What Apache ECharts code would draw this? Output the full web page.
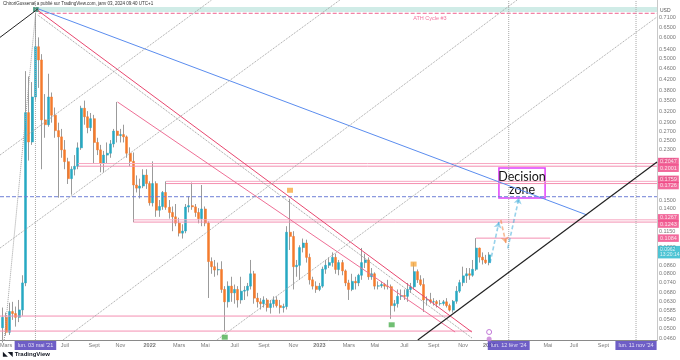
<!DOCTYPE html>
<html><head><meta charset="utf-8">
<script src="https://cdn.jsdelivr.net/npm/echarts@6/dist/echarts.min.js"></script>
<style>html,body{margin:0;padding:0;background:#fff}#c{width:680px;height:360px}</style>
</head><body><div id="c"></div>
<script>
// Weekly candles: [week, open, close, low, high]
const candles = [
['2021-02-22',.0505,.0552,.0445,.0600],['2021-03-01',.0552,.0486,.0472,.0575],['2021-03-08',.0486,.0580,.0475,.0625],
['2021-03-15',.0580,.0570,.0540,.0630],['2021-03-22',.0570,.0552,.0510,.0605],['2021-03-29',.0552,.0588,.0530,.0640],
['2021-04-05',.0588,.0740,.0560,.0790],['2021-04-12',.0740,.3160,.0720,.4500],['2021-04-19',.3160,.2460,.2100,.4300],
['2021-04-26',.2460,.3610,.2400,.4100],['2021-05-03',.3610,.5540,.3500,.7376],['2021-05-10',.5540,.4950,.3900,.6000],
['2021-05-17',.4950,.2970,.1950,.5200],['2021-05-24',.2970,.2850,.2550,.3700],['2021-05-31',.2850,.3610,.2800,.4400],
['2021-06-07',.3610,.3090,.2900,.3750],['2021-06-14',.3090,.2710,.2550,.3300],['2021-06-21',.2710,.2570,.1530,.2900],
['2021-06-28',.2570,.2300,.2150,.2750],['2021-07-05',.2300,.2080,.1950,.2500],['2021-07-12',.2080,.1800,.1720,.2150],
['2021-07-19',.1800,.1950,.1570,.2000],['2021-07-26',.1950,.2000,.1850,.2200],['2021-08-02',.2000,.2340,.1950,.2450],
['2021-08-09',.2340,.3280,.2300,.3350],['2021-08-16',.3280,.3050,.2850,.3500],['2021-08-23',.3050,.2780,.2650,.3200],
['2021-08-30',.2780,.3000,.2700,.3150],['2021-09-06',.3000,.2450,.2050,.3100],['2021-09-13',.2450,.2300,.2200,.2550],
['2021-09-20',.2300,.2050,.1900,.2400],['2021-09-27',.2050,.2200,.1900,.2280],['2021-10-04',.2200,.2235,.2050,.2450],
['2021-10-11',.2235,.2420,.2150,.2500],['2021-10-18',.2420,.2700,.2350,.2750],['2021-10-25',.2700,.2600,.2450,.3460],
['2021-11-01',.2600,.2620,.2450,.2750],['2021-11-08',.2620,.2570,.2450,.2850],['2021-11-15',.2570,.2235,.2150,.2600],
['2021-11-22',.2235,.2086,.2000,.2350],['2021-11-29',.2086,.1705,.1243,.2250],['2021-12-06',.1705,.1660,.1600,.1850],
['2021-12-13',.1660,.1690,.1520,.1800],['2021-12-20',.1690,.1855,.1660,.1950],['2021-12-27',.1855,.1726,.1650,.1950],
['2022-01-03',.1726,.1465,.1430,.1760],['2022-01-10',.1465,.1726,.1420,.2085],['2022-01-17',.1726,.1375,.1300,.1760],
['2022-01-24',.1375,.1420,.1300,.1500],['2022-01-31',.1420,.1600,.1380,.1620],['2022-02-07',.1600,.1410,.1380,.1759],
['2022-02-14',.1410,.1349,.1280,.1500],['2022-02-21',.1349,.1300,.1150,.1420],['2022-02-28',.1300,.1232,.1200,.1450],
['2022-03-07',.1232,.1131,.1100,.1290],['2022-03-14',.1131,.1152,.1080,.1220],['2022-03-21',.1152,.1413,.1130,.1450],
['2022-03-28',.1413,.1430,.1350,.1550],['2022-04-04',.1430,.1415,.1380,.1741],['2022-04-11',.1415,.1349,.1300,.1450],
['2022-04-18',.1349,.1280,.1230,.1400],['2022-04-25',.1280,.1390,.1200,.1705],['2022-05-02',.1390,.1232,.1200,.1420],
['2022-05-09',.1232,.0888,.0651,.1250],['2022-05-16',.0888,.0850,.0800,.0920],['2022-05-23',.0850,.0826,.0780,.0900],
['2022-05-30',.0826,.0830,.0790,.0880],['2022-06-06',.0830,.0700,.0680,.0890],['2022-06-13',.0700,.0630,.0490,.0720],
['2022-06-20',.0630,.0720,.0600,.0750],['2022-06-27',.0720,.0680,.0630,.0780],['2022-07-04',.0680,.0700,.0620,.0730],
['2022-07-11',.0700,.0640,.0600,.0720],['2022-07-18',.0640,.0690,.0620,.0780],['2022-07-25',.0690,.0695,.0640,.0720],
['2022-08-01',.0695,.0720,.0660,.0740],['2022-08-08',.0720,.0800,.0700,.0900],['2022-08-15',.0800,.0650,.0620,.0820],
['2022-08-22',.0650,.0630,.0600,.0680],['2022-08-29',.0630,.0620,.0590,.0650],['2022-09-05',.0620,.0640,.0600,.0660],
['2022-09-12',.0640,.0600,.0580,.0650],['2022-09-19',.0600,.0620,.0570,.0640],['2022-09-26',.0620,.0640,.0600,.0660],
['2022-10-03',.0640,.0610,.0600,.0660],['2022-10-10',.0610,.0600,.0570,.0640],['2022-10-17',.0600,.0605,.0575,.0620],
['2022-10-24',.0605,.1140,.0590,.1200],['2022-10-31',.1140,.1100,.0980,.1515],['2022-11-07',.1100,.0850,.0700,.1150],
['2022-11-14',.0850,.0860,.0780,.0900],['2022-11-21',.0860,.1000,.0760,.1020],['2022-11-28',.1000,.1040,.0960,.1080],
['2022-12-05',.1040,.0920,.0880,.1070],['2022-12-12',.0920,.0760,.0730,.0950],['2022-12-19',.0760,.0720,.0700,.0780],
['2022-12-26',.0720,.0700,.0680,.0750],['2023-01-02',.0700,.0720,.0690,.0740],['2023-01-09',.0720,.0832,.0710,.0850],
['2023-01-16',.0832,.0860,.0800,.0900],['2023-01-23',.0860,.0880,.0840,.0920],['2023-01-30',.0880,.0920,.0850,.0960],
['2023-02-06',.0920,.0830,.0800,.0950],['2023-02-13',.0830,.0880,.0790,.0900],['2023-02-20',.0880,.0820,.0790,.0900],
['2023-02-27',.0820,.0740,.0720,.0830],['2023-03-06',.0740,.0700,.0640,.0760],['2023-03-13',.0700,.0750,.0690,.0800],
['2023-03-20',.0750,.0740,.0700,.0780],['2023-03-27',.0740,.0790,.0720,.0800],['2023-04-03',.0790,.0880,.0760,.0997],
['2023-04-10',.0880,.0900,.0840,.0950],['2023-04-17',.0900,.0780,.0760,.0920],['2023-04-24',.0780,.0800,.0760,.0840],
['2023-05-01',.0800,.0720,.0700,.0810],['2023-05-08',.0720,.0722,.0700,.0750],['2023-05-15',.0722,.0730,.0710,.0750],
['2023-05-22',.0730,.0720,.0700,.0740],['2023-05-29',.0720,.0717,.0700,.0760],['2023-06-05',.0717,.0610,.0545,.0730],
['2023-06-12',.0610,.0620,.0580,.0640],['2023-06-19',.0620,.0660,.0600,.0700],['2023-06-26',.0660,.0665,.0640,.0700],
['2023-07-03',.0665,.0660,.0640,.0700],['2023-07-10',.0660,.0700,.0630,.0740],['2023-07-17',.0700,.0716,.0680,.0740],
['2023-07-24',.0716,.0815,.0700,.0880],['2023-07-31',.0815,.0760,.0740,.0830],['2023-08-07',.0760,.0730,.0720,.0790],
['2023-08-14',.0730,.0640,.0578,.0770],['2023-08-21',.0640,.0641,.0610,.0660],['2023-08-28',.0641,.0630,.0620,.0680],
['2023-09-04',.0630,.0631,.0610,.0650],['2023-09-11',.0631,.0620,.0600,.0640],['2023-09-18',.0620,.0621,.0610,.0640],
['2023-09-25',.0621,.0630,.0610,.0640],['2023-10-02',.0630,.0610,.0600,.0650],['2023-10-09',.0610,.0587,.0580,.0620],
['2023-10-16',.0587,.0633,.0575,.0640],['2023-10-23',.0633,.0690,.0620,.0720],['2023-10-30',.0690,.0742,.0680,.0760],
['2023-11-06',.0742,.0786,.0720,.0850],['2023-11-13',.0786,.0800,.0740,.0840],['2023-11-20',.0800,.0790,.0760,.0840],
['2023-11-27',.0790,.0831,.0780,.0900],['2023-12-04',.0831,.0996,.0820,.1084],['2023-12-11',.0996,.0922,.0880,.1000],
['2023-12-18',.0922,.0900,.0866,.0960],['2023-12-25',.0900,.0880,.0870,.0940],['2024-01-01',.0880,.0940,.0860,.0962]
];
const priceTicks = [0.71,0.65,0.60,0.54,0.50,0.46,0.42,0.38,0.35,0.32,0.29,0.27,0.25,0.23,0.21,0.18,0.15,0.14,0.115,0.10,0.086,0.080,0.074,0.068,0.063,0.0585,0.054,0.050,0.046];
const levelTags = [0.2047,0.2001,0.1759,0.1726,0.1267,0.1243,0.1084];
const lastPrice = 0.0962;
const monthLabels = [
['2021-03-01','Mars'],['2021-07-05','Juil'],['2021-09-06','Sept'],['2021-11-01','Nov'],['2022-01-03','2022'],
['2022-03-07','Mars'],['2022-05-02','Mai'],['2022-07-04','Juil'],['2022-09-05','Sept'],['2022-11-07','Nov'],
['2023-01-02','2023'],['2023-03-06','Mars'],['2023-05-01','Mai'],['2023-07-03','Juil'],['2023-09-04','Sept'],
['2023-11-06','Nov'],['2024-01-01','2024'],['2024-05-06','Mai'],['2024-07-01','Juil'],['2024-09-02','Sept']];
const markedDates = [['2021-05-03',"lun. 03 mai '21"],['2024-02-12',"lun. 12 févr '24"],['2024-11-11',"lun. 11 nov '24"]];
// drawings in data space: [[date, price],[date, price]]
const trendLines = [
 {pts:[['2021-02-16',0.600],['2021-05-08',0.764]], color:'#222', type:'solid', w:1},
 {pts:[['2021-05-10',0.764],['2024-07-29',0.132]], color:'#5b8def', type:'solid', w:1},
 {pts:[['2021-05-08',0.755],['2023-11-25',0.0487]], color:'#e8476f', type:'solid', w:1},
 {pts:[['2021-10-26',0.346],['2023-10-20',0.0487]], color:'#ef6f96', type:'solid', w:1},
 {pts:[['2021-05-08',0.726],['2023-11-25',0.0463]], color:'#999', type:'dotted', w:1},
 {pts:[['2021-02-16',0.2201],['2022-05-16',0.8253]], color:'#a0a0a0', type:'dotted', w:1},
 {pts:[['2021-02-16',0.0996],['2023-02-15',0.8253]], color:'#a0a0a0', type:'dotted', w:1},
 {pts:[['2021-07-01',0.0455],['2024-03-01',0.8253]], color:'#a0a0a0', type:'dotted', w:1},
 {pts:[['2022-05-27',0.0455],['2024-12-26',0.714]], color:'#a0a0a0', type:'dotted', w:1},
 {pts:[['2021-02-25',0.0455],['2021-05-04',0.7575]], color:'#a0a0a0', type:'dotted', w:1},
 {pts:[['2023-08-01',0.0455],['2024-12-26',0.2073]], color:'#222', type:'solid', w:1.2}
];
const levels = [
 {from:'2021-05-10', to:'2024-12-26', p:0.7368, color:'#ef5f8d', type:'dashed'},
 {from:'2021-08-02', to:'2024-12-26', p:0.2047, color:'#f7a8c2', type:'solid'},
 {from:'2021-08-02', to:'2024-12-26', p:0.2001, color:'#f48fb1', type:'solid'},
 {from:'2022-02-07', to:'2024-12-26', p:0.1759, color:'#f7a8c2', type:'solid'},
 {from:'2022-02-07', to:'2024-12-26', p:0.1726, color:'#f48fb1', type:'solid'},
 {from:'2021-11-29', to:'2024-12-26', p:0.1267, color:'#f7a8c2', type:'solid'},
 {from:'2021-11-29', to:'2024-12-26', p:0.1243, color:'#f48fb1', type:'solid'},
 {from:'2023-12-04', to:'2024-05-11', p:0.1084, color:'#f48fb1', type:'solid'},
 {from:'2021-02-16', to:'2024-12-26', p:0.1543, color:'#6f7fd6', type:'dashed'},
 {from:'2021-02-16', to:'2023-10-09', p:0.0558, color:'#f48fb1', type:'solid'},
 {from:'2021-02-16', to:'2023-11-25', p:0.0491, color:'#f48fb1', type:'solid'}
];
const projections = [
 {pts:[['2024-01-03',0.0877],['2024-01-22',0.1244]], color:'#2fa6d8'},
 {pts:[['2024-01-26',0.1265],['2024-02-06',0.1040]], color:'#f07a30'},
 {pts:[['2024-02-10',0.0994],['2024-03-05',0.1529]], color:'#2fa6d8'}
];
const eventMarks = [
 {pt:['2022-10-31',0.163], color:'#f7a940', shape:'rect'},
 {pt:['2023-07-23',0.0869], color:'#f7a940', shape:'rect'},
 {pt:['2022-06-13',0.0466], color:'#4caf50', shape:'rect'},
 {pt:['2023-06-06',0.0518], color:'#4caf50', shape:'rect'}
];

const X_MIN='2021-02-16', X_MAX='2024-12-26', Y_MIN=0.0455, Y_MAX=0.825;
const UP='#26a9c2', DOWN='#f47b2d', WICK='#9b9b9b', TAG='#ef4482';
const FONT='Liberation Sans';

const series = [];
series.push({type:'candlestick', xAxisIndex:0, yAxisIndex:0, barWidth:1, z:2, silent:true,
  encode:{x:0,y:[1,2,3,4]}, data:candles,
  itemStyle:{color:WICK,color0:WICK,borderColor:WICK,borderColor0:WICK,borderWidth:1},
  markArea:{silent:true, data:[
    [{coord:['2021-04-28',0.777], itemStyle:{color:'rgba(120,200,185,0.35)'}},{coord:[X_MAX,0.745]}],
    [{coord:['2021-04-28',0.777], itemStyle:{color:'#4f9e86'}},{coord:['2021-05-10',0.745]}],
    [{coord:['2024-01-22',0.197], itemStyle:{color:'rgba(255,255,255,0.6)',borderColor:'#e040fb',borderWidth:1.5},
      label:{show:true,position:'inside',formatter:'Decision\nzone',fontFamily:'Lato',fontSize:12.5,lineHeight:13,color:'#111'}},
     {coord:['2024-04-30',0.1526]}]
  ]}
});
series.push({type:'candlestick', xAxisIndex:0, yAxisIndex:0, barWidth:2.5, z:3, silent:true,
  encode:{x:0,y:[1,2,3,4]},
  data:candles.map(r=>[r[0],r[1],r[2],Math.min(r[1],r[2]),Math.max(r[1],r[2])]),
  itemStyle:{color:UP,color0:DOWN,borderColor:UP,borderColor0:DOWN,borderWidth:0.5}
});
trendLines.forEach(t=>series.push({type:'line',xAxisIndex:0,yAxisIndex:0,data:t.pts,symbol:'none',silent:true,z:5,
  lineStyle:{color:t.color,width:t.w,type:t.type}}));
levels.forEach(l=>series.push({type:'line',xAxisIndex:0,yAxisIndex:0,data:[[l.from,l.p],[l.to,l.p]],symbol:'none',silent:true,z:4,
  lineStyle:{color:l.color,width:1,type:l.type}}));
markedDates.forEach(m=>series.push({type:'line',xAxisIndex:0,yAxisIndex:0,data:[[m[0],Y_MIN],[m[0],Y_MAX]],symbol:'none',silent:true,z:4,
  lineStyle:{color:'#a8a8a8',width:1,type:'dotted'}}));
series.push({type:'lines',coordinateSystem:'cartesian2d',xAxisIndex:0,yAxisIndex:0,z:6,silent:true,
  symbol:['none','arrow'],symbolSize:6,
  data:projections.map(p=>({coords:p.pts,lineStyle:{color:p.color,width:1.6,type:[4,2.5]}}))});
series.push({type:'scatter',xAxisIndex:0,yAxisIndex:0,z:6,silent:true,
  data:eventMarks.map(e=>({value:e.pt,symbol:e.shape,symbolSize:[6,5],itemStyle:{color:e.color}}))});
series.push({type:'scatter',xAxisIndex:0,yAxisIndex:0,z:6,silent:true,
  data:[{value:['2024-01-01',0.0487],symbol:'circle',symbolSize:5,itemStyle:{color:'#fff',borderColor:'#b45ad0',borderWidth:1}},
        {value:['2024-01-01',0.0459],symbol:'circle',symbolSize:5,itemStyle:{color:'#c77dd6'}}]});
series.push({type:'scatter',xAxisIndex:0,yAxisIndex:0,z:6,silent:true,symbolSize:0,
  data:[['2023-08-27',0.702]],
  label:{show:true,position:'inside',formatter:'ATH Cycle #3',fontSize:5.5,color:'#ef4f86',fontFamily:FONT}});
// price scale
series.push({type:'scatter',xAxisIndex:2,yAxisIndex:2,symbolSize:0,silent:true,
  data:priceTicks.map(v=>[0,v]),
  label:{show:true,position:'right',distance:2,formatter:p=>p.value[1].toFixed(4),fontSize:5.5,color:'#555',fontFamily:FONT}});
series.push({type:'scatter',xAxisIndex:2,yAxisIndex:2,symbolSize:0,silent:true,z:5,
  data:levelTags.map((v,i)=>({value:[0,v],label:{offset:[0,(i%2===0&&i<6)?-2:((i<6)?2:0)]}})),
  label:{show:true,position:'right',distance:1,formatter:p=>p.value[1].toFixed(4),fontSize:5.5,color:'#fff',
    backgroundColor:TAG,padding:[1,2,0.5,2],fontFamily:FONT}});
series.push({type:'scatter',xAxisIndex:2,yAxisIndex:2,symbolSize:0,silent:true,z:5,
  data:[[0,lastPrice]],
  label:{show:true,position:'right',distance:1,formatter:p=>p.value[1].toFixed(4)+'\n13:20:14',fontSize:5,lineHeight:5.5,color:'#fff',
    backgroundColor:'#22b5c9',padding:[1,2,0.5,2],fontFamily:FONT}});
// time scale
series.push({type:'scatter',xAxisIndex:1,yAxisIndex:1,symbolSize:0,silent:true,
  data:monthLabels.map(m=>({value:[m[0],0.72],name:m[1],label:{fontWeight:/^\d{4}$/.test(m[1])?'bold':'normal'}})),
  label:{show:true,position:'inside',formatter:p=>p.name,fontSize:5.5,color:'#555',fontFamily:FONT}});
series.push({type:'scatter',xAxisIndex:1,yAxisIndex:1,symbolSize:0,silent:true,z:5,
  data:markedDates.map(m=>({value:[m[0],0.72],name:m[1]})),
  label:{show:true,position:'inside',formatter:p=>p.name,fontSize:5.5,color:'#fff',backgroundColor:'#4a36b8',padding:[1.5,3],fontFamily:FONT}});

const chart = echarts.init(document.getElementById('c'));
chart.setOption({
  animation:false, backgroundColor:'#fff',
  grid:[{left:0,right:23,top:0,bottom:20},{left:0,right:23,top:340,height:20},{left:657,right:0,top:0,bottom:20}],
  xAxis:[
    {gridIndex:0,type:'time',min:X_MIN,max:X_MAX,axisLine:{show:true,onZero:false,lineStyle:{color:'#8a8a8a'}},axisTick:{show:false},axisLabel:{show:false},splitLine:{show:false}},
    {gridIndex:1,type:'time',min:X_MIN,max:X_MAX,show:false},
    {gridIndex:2,type:'value',min:0,max:1,show:false}],
  yAxis:[
    {gridIndex:0,type:'log',min:Y_MIN,max:Y_MAX,position:'right',axisLine:{show:true,lineStyle:{color:'#c8c8c8'}},axisTick:{show:false},axisLabel:{show:false},splitLine:{show:false}},
    {gridIndex:1,type:'value',min:0,max:1,show:false},
    {gridIndex:2,type:'log',min:Y_MIN,max:Y_MAX,show:false}],
  graphic:[
    {type:'text',left:3,top:1,style:{text:'ChiroriGussenat a publié sur TradingView.com, janv 03, 2024 09:40 UTC+1',fontSize:4.5,fill:'#333',fontFamily:FONT}},
    {type:'text',left:660,top:8,style:{text:'USD',fontSize:5,fill:'#555',fontFamily:FONT}},
    {type:'text',left:3,top:351,style:{text:'◣◥ TradingView',fontSize:6,fontWeight:'bold',fill:'#131722',fontFamily:FONT}}
  ],
  series
});
</script></body></html>
